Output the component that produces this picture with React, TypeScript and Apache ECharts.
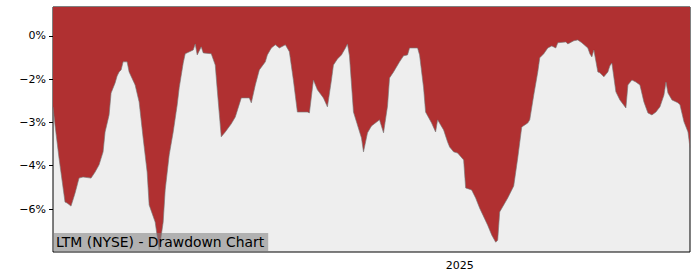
import React, { useEffect, useRef } from "react";
import * as echarts from "echarts";

const dates: string[] = [
  "2024-06-12","2024-06-13","2024-06-15","2024-06-18","2024-06-19","2024-06-21","2024-06-23","2024-06-25","2024-06-27","2024-07-01",
  "2024-07-03","2024-07-05","2024-07-07","2024-07-08","2024-07-10","2024-07-11","2024-07-13","2024-07-14","2024-07-15","2024-07-16",
  "2024-07-17","2024-07-19","2024-07-20","2024-07-23","2024-07-25","2024-07-27","2024-07-29","2024-07-30","2024-08-02","2024-08-04",
  "2024-08-06","2024-08-07","2024-08-09","2024-08-11","2024-08-13","2024-08-14","2024-08-16","2024-08-17","2024-08-21","2024-08-22",
  "2024-08-23","2024-08-25","2024-08-26","2024-08-30","2024-09-01","2024-09-02","2024-09-04","2024-09-06","2024-09-09","2024-09-11",
  "2024-09-14","2024-09-18","2024-09-19","2024-09-21","2024-09-23","2024-09-26","2024-09-27","2024-09-29","2024-10-01","2024-10-03",
  "2024-10-06","2024-10-08","2024-10-10","2024-10-12","2024-10-17","2024-10-18","2024-10-20","2024-10-22","2024-10-25","2024-10-27",
  "2024-10-29","2024-10-30","2024-11-01","2024-11-03","2024-11-05","2024-11-06","2024-11-07","2024-11-09","2024-11-11","2024-11-13",
  "2024-11-14","2024-11-16","2024-11-18","2024-11-22","2024-11-24","2024-11-26","2024-11-27","2024-11-29","2024-12-02","2024-12-04",
  "2024-12-06","2024-12-07","2024-12-11","2024-12-12","2024-12-14","2024-12-15","2024-12-18","2024-12-20","2024-12-21","2024-12-24",
  "2024-12-26","2024-12-27","2024-12-29","2024-12-31","2025-01-03","2025-01-04","2025-01-07","2025-01-09","2025-01-11","2025-01-15",
  "2025-01-17","2025-01-19","2025-01-20","2025-01-21","2025-01-23","2025-01-25","2025-01-28","2025-01-30","2025-02-01","2025-02-04",
  "2025-02-05","2025-02-07","2025-02-09","2025-02-10","2025-02-12","2025-02-14","2025-02-16","2025-02-18","2025-02-19","2025-02-23",
  "2025-02-24","2025-02-27","2025-03-01","2025-03-03","2025-03-06","2025-03-07","2025-03-08","2025-03-09","2025-03-11","2025-03-12",
  "2025-03-14","2025-03-16","2025-03-17","2025-03-18","2025-03-20","2025-03-22","2025-03-25","2025-03-26","2025-03-28","2025-03-30",
  "2025-04-01","2025-04-03","2025-04-05","2025-04-07","2025-04-09","2025-04-11","2025-04-13","2025-04-14","2025-04-15","2025-04-17",
  "2025-04-20","2025-04-21","2025-04-23","2025-04-25","2025-04-26"
];

const drawdown: number[] = [
  -2.46,-3.09,-4.23,-5.76,-5.79,-5.90,-5.45,-4.93,-4.89,-4.93,
  -4.72,-4.47,-4.02,-3.33,-2.74,-1.98,-1.63,-1.39,-1.25,-1.18,
  -0.90,-0.90,-1.25,-1.70,-2.29,-3.54,-4.72,-5.86,-6.45,-7.42,
  -6.45,-5.34,-4.13,-3.33,-2.39,-1.80,-0.94,-0.62,-0.49,-0.28,
  -0.66,-0.38,-0.59,-0.62,-1.01,-1.87,-3.50,-3.33,-3.05,-2.81,
  -2.15,-2.15,-2.32,-1.70,-1.18,-0.90,-0.66,-0.42,-0.31,-0.42,
  -0.31,-0.55,-1.53,-2.64,-2.64,-2.67,-1.53,-1.87,-2.15,-2.46,
  -1.53,-1.01,-0.80,-0.66,-0.42,-0.28,-0.69,-2.64,-3.09,-3.54,
  -4.02,-3.36,-3.12,-2.91,-3.36,-2.43,-1.46,-1.25,-0.90,-0.69,
  -0.66,-0.42,-0.42,-0.66,-1.80,-2.64,-3.02,-3.33,-2.91,-3.26,
  -3.68,-3.85,-4.02,-4.06,-4.30,-5.27,-5.34,-5.62,-5.97,-6.56,
  -6.90,-7.15,-7.08,-6.10,-5.86,-5.62,-5.20,-4.23,-3.16,-3.02,
  -2.91,-2.05,-1.25,-0.76,-0.62,-0.42,-0.35,-0.42,-0.24,-0.21,
  -0.28,-0.17,-0.14,-0.24,-0.42,-0.62,-0.73,-0.49,-1.25,-1.28,
  -1.42,-1.25,-1.04,-0.94,-1.94,-2.22,-2.50,-1.70,-1.53,-1.60,
  -1.70,-2.29,-2.67,-2.74,-2.64,-2.46,-2.05,-1.60,-1.98,-2.22,
  -2.32,-2.39,-2.98,-3.33,-3.88
];

const yTickValues: number[] = [0, -1.5, -3, -4.5, -6];
const yTickLabels: string[] = ["0%", "\u22122%", "\u22123%", "\u22124%", "\u22126%"];
const xTickDates: string[] = ["2025-01-01"];
const xTickLabels: string[] = ["2025"];
const yMin = -7.49;
const yMax = 1.0;
const title = "LTM (NYSE) - Drawdown Chart";

const toTs = (d: string) => new Date(d + "T00:00:00").getTime();

export default function App() {
  const ref = useRef<HTMLDivElement>(null);
  useEffect(() => {
    if (!ref.current) return;
    const chart = echarts.init(ref.current, undefined, { renderer: "svg" });
    const xTickTs = xTickDates.map(toTs);
    const font = "DejaVu Sans";
    chart.setOption({
      animation: false,
      grid: {
        left: 53,
        right: 10,
        top: 7,
        bottom: 28,
        show: true,
        backgroundColor: "#eeeeee",
        borderColor: "#000000",
        borderWidth: 1,
        z: 0,
      },
      xAxis: {
        type: "value",
        min: toTs(dates[0]),
        max: toTs(dates[dates.length - 1]),
        axisLine: { show: false },
        splitLine: { show: false },
        axisTick: {
          show: true,
          length: 4,
          lineStyle: { color: "#000", width: 1 },
          customValues: xTickTs,
        },
        axisLabel: {
          customValues: xTickTs,
          formatter: (v: number) => {
            const i = xTickTs.findIndex((t) => Math.abs(t - v) < 86400000);
            return i >= 0 ? xTickLabels[i] : "";
          },
          color: "#000",
          fontFamily: font,
          fontSize: 11,
          margin: 8,
        },
      },
      yAxis: {
        type: "value",
        min: yMin,
        max: yMax,
        axisLine: { show: false },
        splitLine: { show: false },
        axisTick: {
          show: true,
          length: 4,
          lineStyle: { color: "#000", width: 1 },
          customValues: yTickValues,
        },
        axisLabel: {
          customValues: yTickValues,
          formatter: (v: number) => {
            const i = yTickValues.findIndex((t) => Math.abs(t - v) < 1e-6);
            return i >= 0 ? yTickLabels[i] : "";
          },
          color: "#000",
          fontFamily: font,
          fontSize: 11,
          margin: 7,
        },
      },
      series: [
        {
          type: "line",
          data: dates.map((d, i) => [toTs(d), drawdown[i]]),
          showSymbol: false,
          symbol: "none",
          lineStyle: { color: "rgba(120,120,120,0.8)", width: 0.8 },
          areaStyle: { origin: "end", color: "#b03031", opacity: 1 },
          z: 2,
        },
      ],
      graphic: [
        {
          type: "text",
          left: 53,
          top: 233,
          z: 100,
          style: {
            text: title,
            fill: "#000",
            font: `13.9px "${font}"`,
            backgroundColor: "rgba(128,128,128,0.55)",
            padding: [2, 4, 2, 3],
          },
        },
      ],
    });
    return () => chart.dispose();
  }, []);
  return (
    <div
      ref={ref}
      style={{ position: "absolute", left: 0, top: 0, width: 700, height: 280 }}
    />
  );
}
